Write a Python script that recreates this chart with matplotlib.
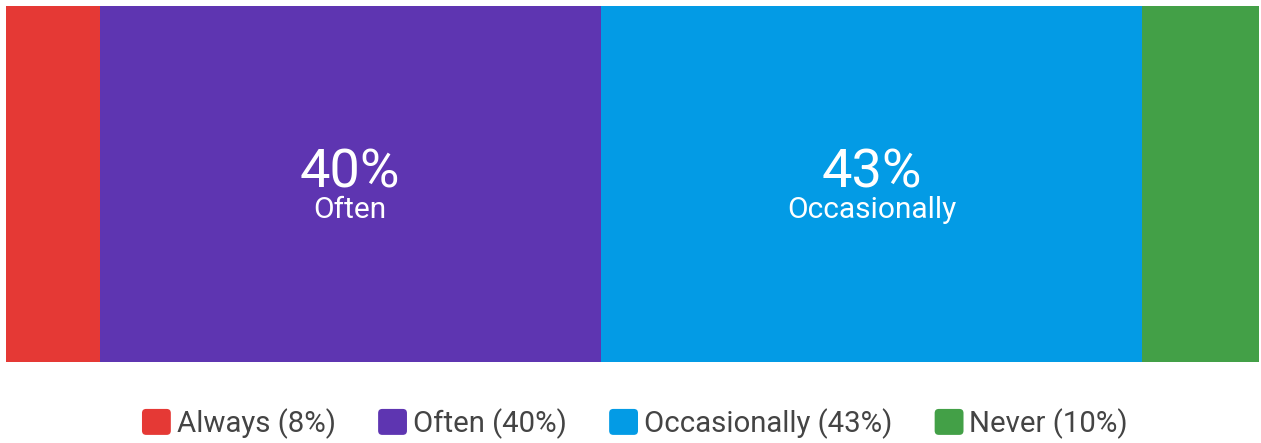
import matplotlib
matplotlib.use("Agg")
import matplotlib.pyplot as plt
from matplotlib.patches import Patch, FancyBboxPatch
from matplotlib.legend_handler import HandlerPatch

categories = ["Always", "Often", "Occasionally", "Never"]
values = [7.5, 39.9, 43.2, 9.3]
labels_pct = ["8%", "40%", "43%", "10%"]
colors = ["#E53935", "#5E35B1", "#039BE5", "#43A047"]
show_inside = [False, True, True, False]

plt.rcParams['font.family'] = ['Roboto', 'DejaVu Sans']

W, H = 1261, 443
fig = plt.figure(figsize=(W / 100, H / 100), dpi=100)
ax = fig.add_axes([6 / W, (H - 362) / H, (1259 - 6) / W, (362 - 6) / H])

total = sum(values)
left = 0
tr = ax.get_xaxis_transform()
for cat, v, pct, c, show in zip(categories, values, labels_pct, colors, show_inside):
    ax.barh(0, v, left=left, color=c, height=1.0, edgecolor='none')
    if show:
        cx = left + v / 2
        ax.text(cx, (362 - 188) / 356, pct, ha='center', va='baseline', color='white',
                fontsize=39, transform=tr)
        ax.text(cx, (362 - 218) / 356, cat, ha='center', va='baseline', color='white',
                fontsize=21.5, transform=tr)
    left += v

ax.set_xlim(0, total)
ax.set_ylim(-0.5, 0.5)
ax.axis('off')


class RoundHandler(HandlerPatch):
    def create_artists(self, legend, orig_handle, xdescent, ydescent, width, height,
                       fontsize, trans):
        p = FancyBboxPatch((-xdescent, -ydescent), width, height,
                           boxstyle="round,pad=0,rounding_size=3",
                           facecolor=orig_handle.get_facecolor(), edgecolor='none',
                           transform=trans)
        return [p]


handles = [Patch(facecolor=c, edgecolor='none') for c in colors]
leg_labels = [f"{c} ({p})" for c, p in zip(categories, labels_pct)]
fig.legend(handles, leg_labels, loc='center', bbox_to_anchor=(635 / W, (H - 423.5) / H),
           ncol=4, frameon=False, fontsize=21.2, handlelength=0.98, handleheight=0.98,
           handletextpad=0.2, columnspacing=1.44, labelcolor='#444444',
           borderpad=0, borderaxespad=0,
           handler_map={Patch: RoundHandler()})

fig.savefig("out.png", dpi=100)
